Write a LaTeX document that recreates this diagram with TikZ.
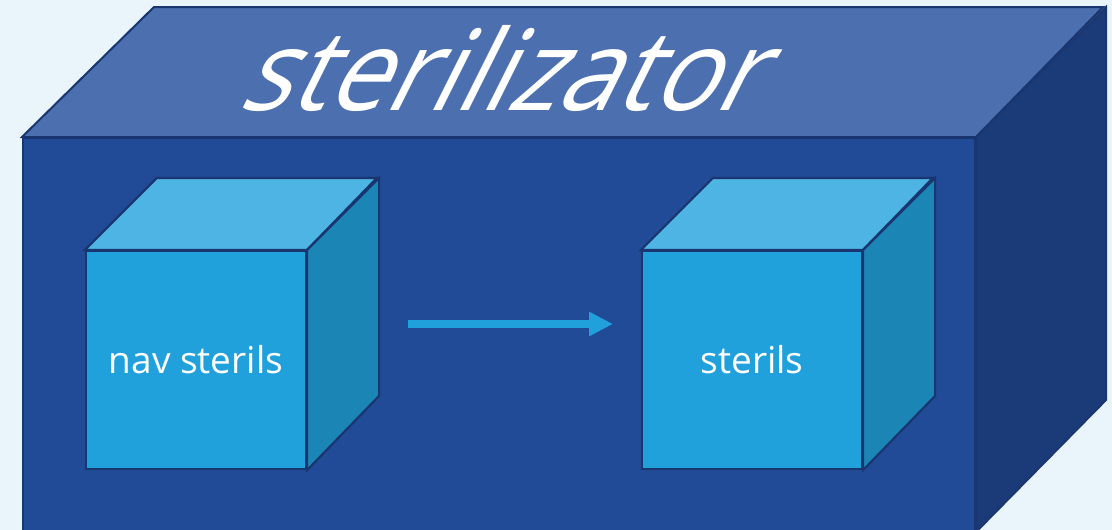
\documentclass[tikz,border=0pt]{standalone}
\usepackage{fontspec}
\setmainfont{Open Sans}
\newfontfamily\titlefont[FakeSlant=0.5,FakeStretch=0.935]{Open Sans}
\usetikzlibrary{arrows.meta}

\definecolor{bgcol}{HTML}{E9F5FB}
\definecolor{bigtop}{HTML}{4C6FAF}
\definecolor{bigfront}{HTML}{214A97}
\definecolor{bigside}{HTML}{1B3A78}
\definecolor{edgecol}{HTML}{1A3670}
\definecolor{boxfront}{HTML}{20A1DB}
\definecolor{boxtop}{HTML}{4DB4E3}
\definecolor{boxside}{HTML}{1B86B5}

\tikzset{
  bigface/.style={draw=edgecol, line width=2pt, line join=miter},
  boxface/.style={draw=edgecol, line width=2.2pt, line join=miter},
  boxfrontface/.style={boxface, fill=boxfront, rectangle,
    minimum width=220pt, minimum height=218pt, inner sep=0pt,
    text=white, font=\fontsize{37}{44}\selectfont},
  flow/.style={draw=boxfront, line width=7.5pt,
    -{Triangle[length=24pt,width=23pt]}},
  titletext/.style={text=white, inner sep=0pt,
    font=\titlefont\fontsize{112}{120}\selectfont},
}

\begin{document}
\begin{tikzpicture}[x=1pt, y=-1pt]
  \useasboundingbox (0,0) rectangle (1112,530);
  \fill[bgcol] (0,0) rectangle (1112,530);

  % large housing box
  \node[bigface, fill=bigfront, rectangle, inner sep=0pt,
        minimum width=952pt, minimum height=393pt] (house) at (499,334.5) {};
  \draw[bigface, fill=bigtop] (house.north west) -- ++(132,-130)
        -- ++(949,0) -- (house.north east) -- cycle;
  \draw[bigface, fill=bigside] (house.north east) -- ++(130,-130)
        -- ++(0,393) -- (house.south east) -- cycle;

  % left box
  \node[boxfrontface] (lf) at (196,360) {nav sterils};
  \draw[boxface, fill=boxtop] (lf.north west) -- ++(72,-72)
        -- ++(220,0) -- (lf.north east) -- cycle;
  \draw[boxface, fill=boxside] (lf.north east) -- ++(72,-72)
        -- ++(0,218) -- (lf.south east) -- cycle;

  % right box
  \node[boxfrontface] (rf) at (752,360) {sterils};
  \draw[boxface, fill=boxtop] (rf.north west) -- ++(72,-72)
        -- ++(220,0) -- (rf.north east) -- cycle;
  \draw[boxface, fill=boxside] (rf.north east) -- ++(72,-72)
        -- ++(0,218) -- (rf.south east) -- cycle;

  % transfer arrow
  \coordinate (flowstart) at (408,324);
  \coordinate (flowend) at (613,324);
  \draw[flow] (flowstart) -- (flowend);

  % title on the lid
  \node[titletext, anchor=base west] (title) at (236,110) {sterilizator};
\end{tikzpicture}
\end{document}
